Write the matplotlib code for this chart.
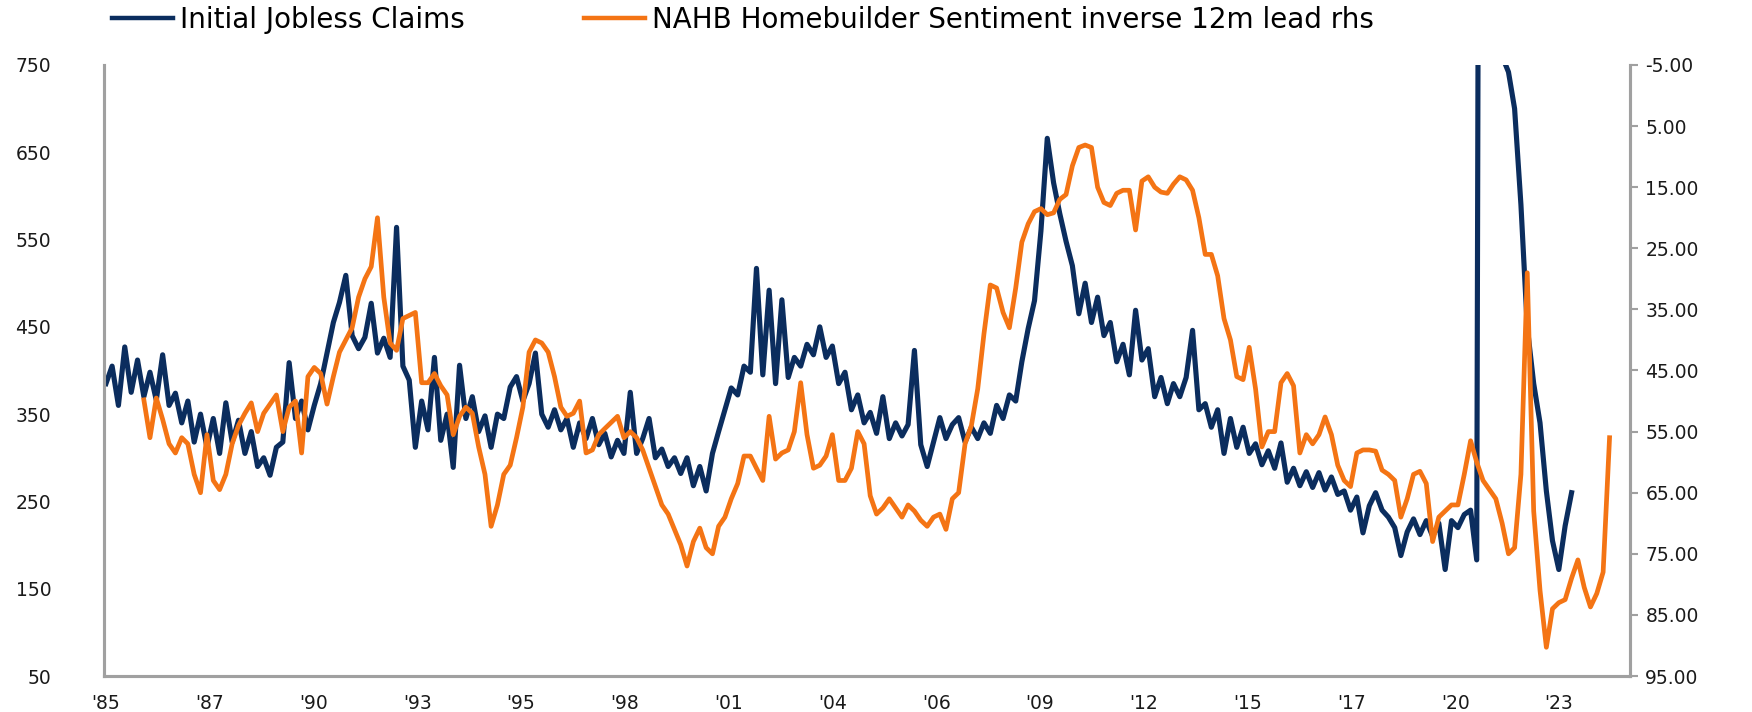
import matplotlib
matplotlib.use("Agg")
import matplotlib.pyplot as plt
from matplotlib.lines import Line2D
import pandas as pd

# Initial jobless claims (k), every 2 months from Jan 1985, one row per year
claims = [
    385, 405, 360, 427, 375, 412,
    370, 398, 366, 418, 360, 374,
    340, 365, 318, 350, 312, 345,
    305, 363, 318, 343, 305, 330,
    290, 300, 280, 312, 318, 409,
    345, 365, 332, 360, 385, 420,
    455, 478, 509, 440, 425, 438,
    477, 420, 437, 415, 564, 405,
    389, 312, 365, 332, 415, 320,
    350, 289, 406, 345, 370, 330,
    348, 312, 350, 345, 381, 393,
    365, 385, 420, 350, 335, 355,
    332, 345, 312, 340, 322, 345,
    315, 328, 301, 320, 305, 375,
    305, 322, 345, 300, 310, 290,
    300, 282, 300, 268, 290, 262,
    305, 330, 355, 380, 372, 405,
    398, 517, 395, 492, 385, 481,
    392, 415, 405, 430, 418, 450,
    415, 428, 385, 398, 355, 372,
    340, 352, 328, 370, 322, 340,
    325, 338, 423, 315, 290, 318,
    346, 322, 338, 346, 318, 335,
    322, 340, 328, 360, 345, 372,
    365, 410, 448, 480, 560, 666,
    615, 580, 548, 520, 465, 500,
    455, 484, 440, 455, 410, 430,
    395, 469, 412, 425, 370, 392,
    362, 385, 370, 392, 446, 355,
    362, 335, 355, 305, 345, 312,
    335, 305, 316, 292, 308, 288,
    317, 272, 288, 268, 284, 266,
    283, 263, 278, 258, 262, 240,
    255, 214, 245, 260, 240, 232,
    220, 188, 215, 230, 212, 228,
    210, 225, 172, 228, 220, 235,
    240, 183, 3000, 2600, 1600, 760,
    742, 700, 590, 450, 385, 340,
    262, 205, 172, 222, 260,
]

# NAHB sentiment, plotted with a 12m lead, every 2 months from Jan 1986
nahb = [
    49.8, 56, 49.5, 53, 57, 58.5,
    56, 57, 62, 65, 55.5, 63,
    64.5, 62, 57, 54, 52, 50.3,
    55, 52, 50.5, 49, 55, 51,
    50, 58.5, 46, 44.5, 45.5, 50.5,
    46, 42, 40, 38, 33, 30,
    28, 20, 33, 40.5, 41.7, 36.5,
    36, 35.5, 47, 47, 45.5, 47.5,
    49, 55.5, 52.5, 51, 52, 57.5,
    62, 70.5, 67, 62, 60.5, 56,
    51, 42, 40, 40.5, 42, 46,
    51, 52.5, 52, 50, 58.5, 58,
    55.5, 54.5, 53.5, 52.5, 56, 55,
    56, 58, 61, 64, 67, 68.5,
    71, 73.5, 77, 73, 70.8, 74,
    75, 70.5, 69, 66, 63.5, 59,
    59, 61, 63, 52.5, 59.5, 58.5,
    58, 55, 47, 55.5, 61, 60.5,
    59, 55.5, 63, 63, 61, 55,
    57, 65.5, 68.5, 67.5, 66, 67.5,
    69, 67, 68, 69.5, 70.5, 69,
    68.5, 71, 66, 65, 57, 54,
    48, 39, 31, 31.5, 35.5, 38,
    31.5, 24, 21, 19, 18.5, 19.5,
    19.2, 17, 16.2, 11.5, 8.5, 8.1,
    8.5, 15, 17.5, 18, 16, 15.5,
    15.5, 22, 14, 13.3, 15, 15.8,
    16, 14.5, 13.3, 13.8, 15.5, 20,
    26, 26, 29.5, 36.5, 40, 46,
    46.5, 41.2, 48, 57.5, 55, 55,
    47, 45.5, 47.5, 58.5, 55.5, 57,
    55.5, 52.6, 55.5, 60.5, 63, 64,
    58.5, 58, 58, 58.2, 61.3, 62,
    63, 69, 66, 62, 61.5, 63.5,
    73, 69, 68, 67, 67, 62,
    56.5, 60, 63, 64.5, 66, 70,
    75, 74, 62, 29, 68, 81,
    90.3, 84, 83, 82.5, 79, 76,
    80.5, 83.7, 81.5, 78, 56,
]

left_ticks = [50, 150, 250, 350, 450, 550, 650, 750]
right_ticks = [-5, 5, 15, 25, 35, 45, 55, 65, 75, 85, 95]
x_labels = ["'85", "'87", "'90", "'93", "'95", "'98", "'01", "'04",
            "'06", "'09", "'12", "'15", "'17", "'20", "'23"]

BLUE = "#0b2d5e"
ORANGE = "#f47414"
GREY = "#a0a0a0"

plt.rcParams["font.family"] = ["DejaVu Sans"]

claims_dates = pd.date_range("1985-01-01", periods=len(claims), freq="2MS")
nahb_dates = pd.date_range("1986-01-01", periods=len(nahb), freq="2MS")
tick_dates = [pd.Timestamp("1985-01-01") + pd.Timedelta(days=1000 * k)
              for k in range(len(x_labels))]

fig = plt.figure(figsize=(17.52, 7.12), dpi=100)
ax = fig.add_axes([104 / 1752, 36 / 712, 1526 / 1752, 611 / 712])
ax2 = ax.twinx()

# weekly noise in the original makes the claims line look like a band
ax.plot(claims_dates, claims, color=BLUE, lw=3.7)
ax2.plot(nahb_dates, nahb, color=ORANGE, lw=3.4)

ax.set_xlim(pd.Timestamp("1984-12-13"), pd.Timestamp("2025-03-17"))
ax.set_ylim(50, 750)
ax2.set_ylim(95, -5)

ax.set_yticks(left_ticks)
ax.set_yticklabels([str(v) for v in left_ticks])
ax2.set_yticks(right_ticks)
ax2.set_yticklabels([f"{v:.2f}" for v in right_ticks])
ax.set_xticks(tick_dates)
ax.set_xticklabels(x_labels)

ax.tick_params(axis="y", length=0, pad=38, labelsize=13.5, labelcolor="#1a1a1a")
ax.tick_params(axis="x", length=0, pad=13, labelsize=13.5, labelcolor="#1a1a1a")
ax2.tick_params(axis="y", length=6, width=1.5, color=GREY, pad=5,
                labelsize=13.5, labelcolor="#1a1a1a")

for a in (ax, ax2):
    a.spines["top"].set_visible(False)
    for s in ("left", "right", "bottom"):
        a.spines[s].set_color(GREY)
        a.spines[s].set_linewidth(2.2)

handles = [Line2D([], [], color=BLUE, lw=3.2), Line2D([], [], color=ORANGE, lw=3.2)]
fig.legend(handles, ["Initial Jobless Claims",
                     "NAHB Homebuilder Sentiment inverse 12m lead rhs"],
           loc="center left", bbox_to_anchor=(112 / 1752, 1 - 20 / 712),
           ncol=2, frameon=False, fontsize=20, handlelength=2.2,
           handletextpad=0.25, columnspacing=4.3, borderpad=0, borderaxespad=0)

fig.savefig("out.png", dpi=100)
